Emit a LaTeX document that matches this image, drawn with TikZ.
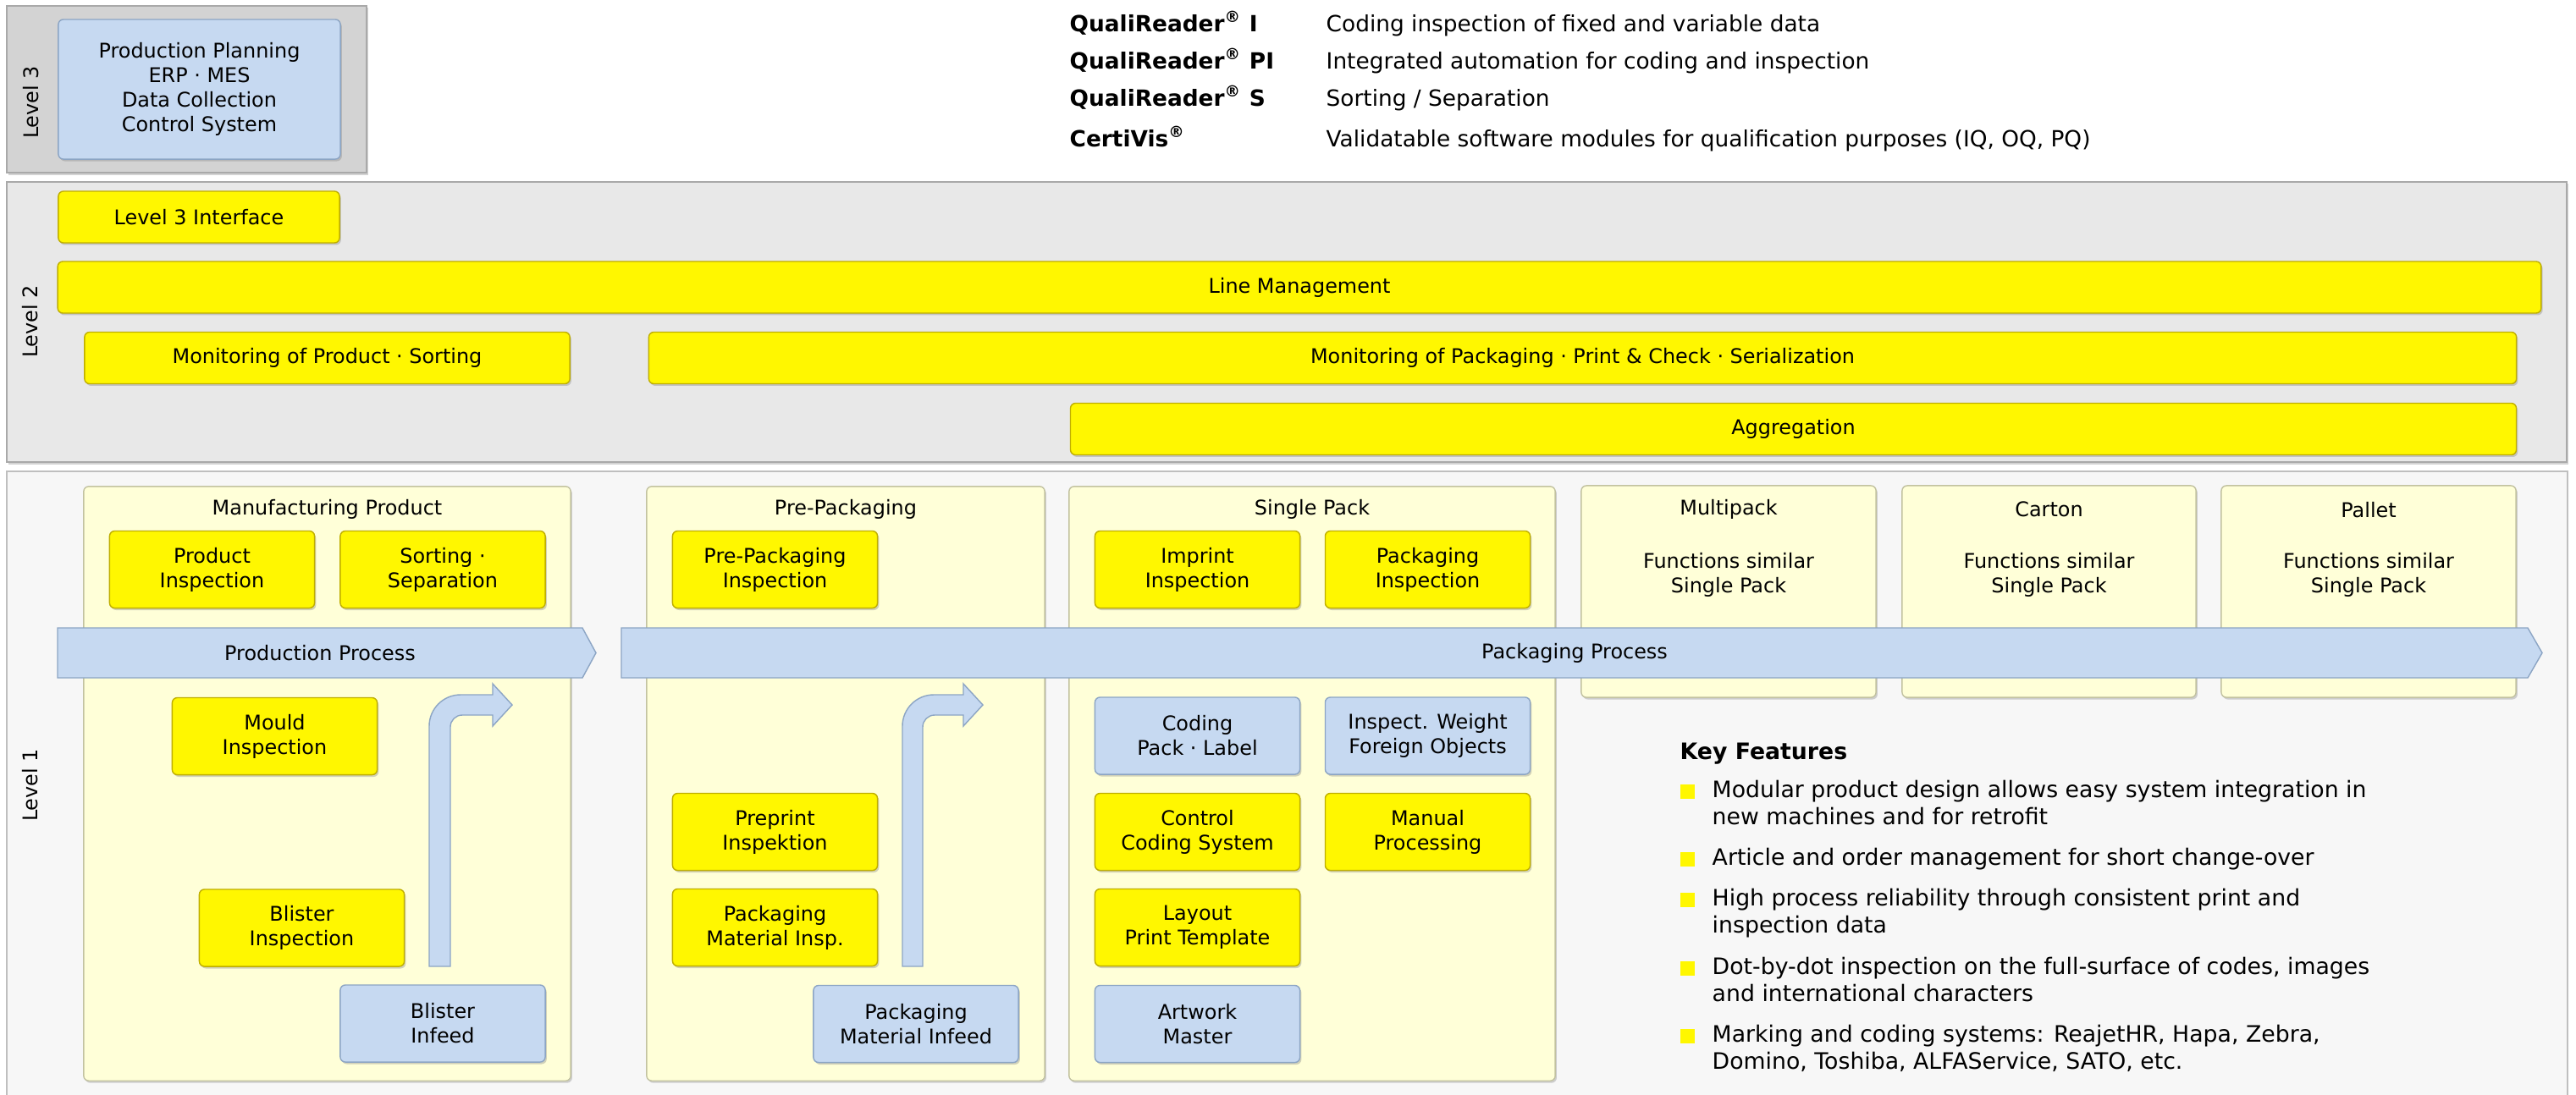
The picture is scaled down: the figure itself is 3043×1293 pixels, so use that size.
\documentclass[tikz,border=0pt]{standalone}
\usepackage{fontspec}
\setmainfont{DejaVu Sans}
\usetikzlibrary{shadows}

\definecolor{boxyellow}{HTML}{FFF700}
\definecolor{yellowedge}{HTML}{BFAE00}
\definecolor{boxblue}{HTML}{C6D9F1}
\definecolor{blueedge}{HTML}{8CA5C4}
\definecolor{grpfill}{HTML}{FFFFD8}
\definecolor{grpedge}{HTML}{C2C2A0}
\definecolor{lvlthree}{HTML}{D3D3D3}
\definecolor{lvltwo}{HTML}{E8E8E8}
\definecolor{lvlone}{HTML}{F7F7F7}
\definecolor{panedge}{HTML}{A9A9A9}

\newcommand{\bxfont}{\fontsize{6.8}{8.25}\selectfont}
\newcommand{\kffont}{\fontsize{7.6}{9.1}\selectfont}
\newcommand{\topfont}{\fontsize{7.5}{9}\selectfont}

\tikzset{
  boxshadow/.style={drop shadow={opacity=0.35, shadow xshift=0.5pt, shadow yshift=-0.7pt}},
  modbox/.style={draw=yellowedge, fill=boxyellow, rounded corners=0.6mm, boxshadow,
    align=center, font=\bxfont, inner sep=0pt, minimum width=2.42cm, minimum height=0.91cm},
  feedbox/.style={modbox, draw=blueedge, fill=boxblue},
  levelbar/.style={modbox, minimum height=0.61cm},
  stagebox/.style={draw=grpedge, fill=grpfill, rounded corners=0.6mm, boxshadow, inner sep=0pt},
  stagetitle/.style={font=\bxfont, align=center, inner sep=0pt},
  panel/.style={draw=panedge, inner sep=0pt},
  levellabel/.style={rotate=90, font=\bxfont, inner sep=0pt},
  procarrow/.style={draw=blueedge, fill=boxblue},
  kfbullet/.style={fill=boxyellow, minimum size=0.17cm, inner sep=0pt},
  kftext/.style={anchor=base west, align=left, font=\kffont, inner sep=0pt},
  prodname/.style={anchor=base west, font=\topfont\bfseries, inner sep=0pt},
  proddesc/.style={anchor=base west, font=\topfont, inner sep=0pt}
}

\begin{document}
\begin{tikzpicture}[x=0.01cm, y=-0.01cm]
\useasboundingbox (0,0) rectangle (3043,1293);

% Level 3
\node[panel, fill=lvlthree, boxshadow, minimum width=4.25cm, minimum height=1.97cm] (lvthree) at (220.5,105.5) {};
\node[levellabel] (lv3) at (37,121) {Level 3};
\node[feedbox, minimum width=3.33cm, minimum height=1.65cm] (erp) at (235.5,105.5) {Production Planning\\ERP · MES\\Data Collection\\Control System};

% Produkte
\node[prodname] (qri) at (1263,37) {QualiReader\textsuperscript{®} I};
\node[prodname] (qrpi) at (1263,81) {QualiReader\textsuperscript{®} PI};
\node[prodname] (qrs) at (1263,125) {QualiReader\textsuperscript{®} S};
\node[prodname] (cv) at (1263,173) {CertiVis\textsuperscript{®}};
\node[proddesc] (qrid) at (1566,37) {Coding inspection of fixed and variable data};
\node[proddesc] (qrpid) at (1566,81) {Integrated automation for coding and inspection};
\node[proddesc] (qrsd) at (1566,125) {Sorting / Separation};
\node[proddesc] (cvd) at (1566,173) {Validatable software modules for qualification purposes (IQ, OQ, PQ)};

% Level 2
\node[panel, fill=lvltwo, boxshadow, minimum width=30.22cm, minimum height=3.31cm] (lvtwo) at (1520,380.5) {};
\node[levellabel] (lv2) at (36,380) {Level 2};
\node[levelbar, minimum width=3.32cm] (l3if) at (235,256.5) {Level 3 Interface};
\node[levelbar, minimum width=29.32cm] (linemgmt) at (1535,339.5) {Line Management};
\node[levelbar, minimum width=5.73cm] (monprod) at (386.5,423) {Monitoring of Product · Sorting};
\node[levelbar, minimum width=22.05cm] (monpack) at (1869.5,423) {Monitoring of Packaging · Print \& Check · Serialization};
\node[levelbar, minimum width=17.07cm] (aggr) at (2118.5,507) {Aggregation};

% Level 1
\node[panel, draw=lightgray, fill=lvlone, minimum width=30.23cm, minimum height=7.43cm] (lvone) at (1520.5,928.5) {};
\node[levellabel] (lv1) at (36,928) {Level 1};

\node[stagebox, minimum width=5.75cm, minimum height=7.02cm] (mfg) at (386.5,926) {};
\node[stagebox, minimum width=4.70cm, minimum height=7.02cm] (prepack) at (999,926) {};
\node[stagebox, minimum width=5.74cm, minimum height=7.02cm] (single) at (1550,926) {};
\node[stagebox, minimum width=3.48cm, minimum height=2.50cm] (multi) at (2042,699) {};
\node[stagebox, minimum width=3.47cm, minimum height=2.50cm] (carton) at (2420.5,699) {};
\node[stagebox, minimum width=3.48cm, minimum height=2.50cm] (pallet) at (2798,699) {};

\node[stagetitle] (mfgt) at ([yshift=-0.28cm]mfg.north) {Manufacturing Product};
\node[stagetitle] (prepackt) at ([yshift=-0.28cm]prepack.north) {Pre-Packaging};
\node[stagetitle] (singlet) at ([yshift=-0.28cm]single.north) {Single Pack};
\node[stagetitle] (multit) at ([yshift=-0.29cm]multi.north) {Multipack};
\node[stagetitle] (cartont) at ([yshift=-0.29cm]carton.north) {Carton};
\node[stagetitle] (palltt) at ([yshift=-0.29cm]pallet.north) {Pallet};
\node[stagetitle] (multib) at ([yshift=0.2cm]multi.center) {Functions similar\\Single Pack};
\node[stagetitle] (cartonb) at ([yshift=0.2cm]carton.center) {Functions similar\\Single Pack};
\node[stagetitle] (palletb) at ([yshift=0.2cm]pallet.center) {Functions similar\\Single Pack};

% Prozesspfeile
\filldraw[procarrow] (68,742) -- (688,742) -- (704,771.5) -- (688,801) -- (68,801) -- cycle;
\node[stagetitle] (prodproc) at (378,771.5) {Production Process};
\filldraw[procarrow] (734,742) -- (2986,742) -- (3003,771.5) -- (2986,801) -- (734,801) -- cycle;
\node[stagetitle] (packproc) at (1860,771.5) {Packaging Process};

% Manufacturing Product
\node[modbox] (prodinsp) at (250.5,673) {Product\\Inspection};
\node[modbox] (sorting) at (523,673) {Sorting ·\\Separation};
\node[modbox] (mould) at (324.5,870) {Mould\\Inspection};
\node[modbox] (blistinsp) at (356.5,1096.5) {Blister\\Inspection};
\node[feedbox] (blistfeed) at (523,1209.5) {Blister\\Infeed};
\filldraw[procarrow] (507,1142) -- (507,858) .. controls (507,837.6) and (523.6,821) .. (544,821)
  -- (582,821) -- (582,808) -- (605,833) -- (582,858) -- (582,845) -- (546,845)
  .. controls (538.3,845) and (532,851.3) .. (532,859) -- (532,1142) -- cycle;

% Pre-Packaging
\node[modbox] (preinsp) at (915.5,673) {Pre-Packaging\\Inspection};
\node[modbox] (preprint) at (915.5,983) {Preprint\\Inspektion};
\node[modbox] (matinsp) at (915.5,1096) {Packaging\\Material Insp.};
\node[feedbox] (matfeed) at (1082,1210) {Packaging\\Material Infeed};
\filldraw[procarrow] (1066,1142) -- (1066,858) .. controls (1066,837.6) and (1082.6,821) .. (1103,821)
  -- (1138,821) -- (1138,808) -- (1161,833) -- (1138,858) -- (1138,845) -- (1104,845)
  .. controls (1096.3,845) and (1090,851.3) .. (1090,859) -- (1090,1142) -- cycle;

% Single Pack
\node[modbox] (imprint) at (1414.5,673) {Imprint\\Inspection};
\node[modbox] (packinsp) at (1686.5,673) {Packaging\\Inspection};
\node[feedbox] (coding) at (1414.5,869.5) {Coding\\Pack · Label};
\node[feedbox] (weight) at (1686.5,869.5) {Inspect. Weight\\Foreign Objects};
\node[modbox] (ctrlcode) at (1414.5,983) {Control\\Coding System};
\node[modbox] (manual) at (1686.5,983) {Manual\\Processing};
\node[modbox] (layout) at (1414.5,1096) {Layout\\Print Template};
\node[feedbox] (artwork) at (1414.5,1210) {Artwork\\Master};

% Key Features
\node[anchor=base west, font=\kffont\bfseries, inner sep=0pt] (kf) at (1984,897) {Key Features};
\node[kfbullet] (kb1) at (1993,935) {};
\node[kftext] (kf1) at (2022,974) {Modular product design allows easy system integration in\\new machines and for retrofit};
\node[kfbullet] (kb2) at (1993,1015) {};
\node[kftext] (kf2) at (2022,1022) {Article and order management for short change-over};
\node[kfbullet] (kb3) at (1993,1063) {};
\node[kftext] (kf3) at (2022,1102) {High process reliability through consistent print and\\inspection data};
\node[kfbullet] (kb4) at (1993,1144) {};
\node[kftext] (kf4) at (2022,1183) {Dot-by-dot inspection on the full-surface of codes, images\\and international characters};
\node[kfbullet] (kb5) at (1993,1224) {};
\node[kftext] (kf5) at (2022,1263) {Marking and coding systems: ReajetHR, Hapa, Zebra,\\Domino, Toshiba, ALFAService, SATO, etc.};

\end{tikzpicture}
\end{document}
